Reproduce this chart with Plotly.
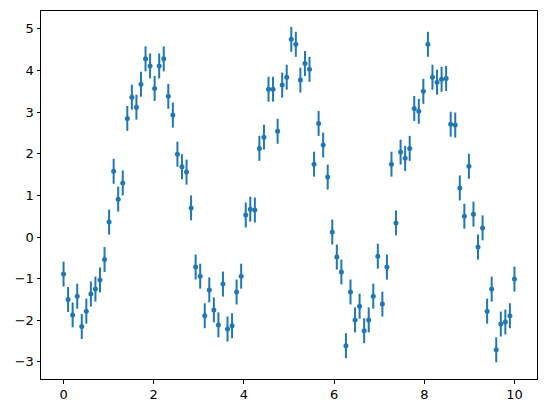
import numpy as np
import plotly.graph_objects as go

# x positions: 100 evenly spaced samples between 0 and 10
x = np.linspace(0, 10, 100)

y = [
    -0.89, -1.50, -1.87, -1.42, -2.15, -1.78, -1.37, -1.25, -1.03, -0.54,
    0.36, 1.58, 0.91, 1.30, 2.85, 3.36, 3.12, 3.67, 4.28, 4.11,
    3.57, 4.11, 4.28, 3.38, 2.93, 1.99, 1.69, 1.56, 0.70, -0.72,
    -0.94, -1.89, -1.27, -1.75, -2.11, -1.13, -2.21, -2.13, -1.32, -0.94,
    0.53, 0.67, 0.65, 2.13, 2.40, 3.55, 3.55, 2.54, 3.65, 3.84,
    4.75, 4.63, 3.77, 4.17, 4.03, 1.75, 2.73, 2.21, 1.44, 0.12,
    -0.48, -0.84, -2.61, -1.32, -1.99, -1.66, -2.25, -1.99, -1.42, -0.46,
    -1.61, -0.72, 1.75, 0.34, 2.04, 1.89, 2.13, 3.09, 3.02, 3.50,
    4.63, 3.84, 3.72, 3.79, 3.81, 2.71, 2.69, 1.18, 0.50, 1.70,
    0.55, -0.24, 0.22, -1.78, -1.25, -2.71, -2.09, -2.04, -1.89, -1.01,
]

dy = 0.3

fig = go.Figure()
fig.add_trace(go.Scatter(
    x=x,
    y=y,
    mode='markers',
    marker=dict(color='#1f77b4', size=5),
    error_y=dict(type='constant', value=dy, color='#1f77b4',
                 thickness=2, width=0),
    showlegend=False,
))

axis_style = dict(
    showgrid=False,
    zeroline=False,
    showline=True,
    linecolor='black',
    linewidth=1,
    mirror=True,
    ticks='outside',
    ticklen=3.5,
    tickwidth=0.8,
    tickcolor='black',
    tickfont=dict(family='DejaVu Sans', size=13, color='black'),
    automargin=False,
)

# page body adds an 8px margin, so the figure is sized to fit inside it
fig.update_layout(
    width=530,
    height=397,
    margin=dict(l=33, r=1, t=3, b=26),
    plot_bgcolor='white',
    paper_bgcolor='white',
    xaxis=dict(range=[-0.5, 10.5], dtick=2, tick0=0, **axis_style),
    yaxis=dict(range=[-3.41, 5.43], dtick=1, tick0=0, **axis_style),
)

fig.write_html("out.html")
